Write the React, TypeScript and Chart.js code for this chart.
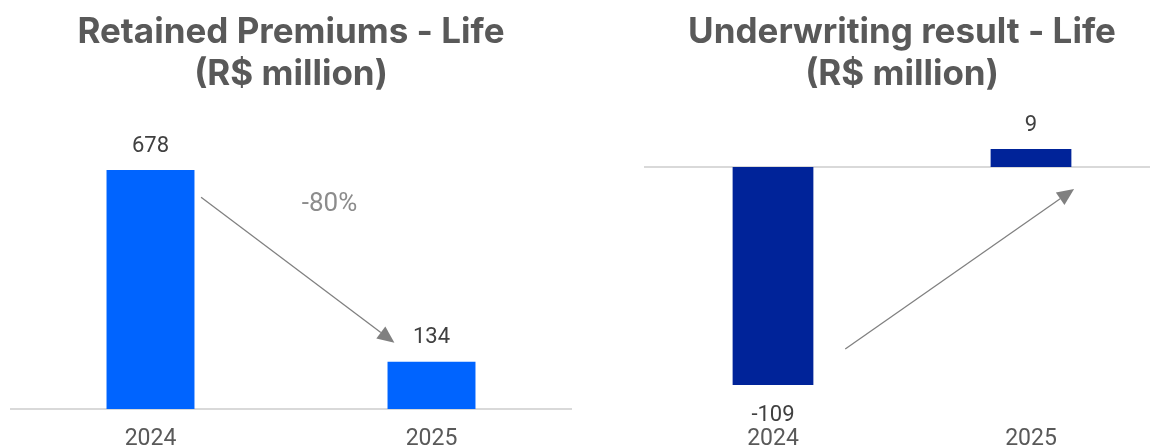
import React, { useEffect, useRef } from "react";
import { Chart, registerables } from "chart.js";

Chart.register(...registerables);

const categories = ["2024", "2025"];
const premiumsValues = [678, 134];
const underwritingValues = [-109, 9];
const premiumsTitle = ["Retained Premiums - Life", "(R$ million)"];
const underwritingTitle = ["Underwriting result - Life", "(R$ million)"];
const premiumsChangeLabel = "-80%";
// arrow annotations in data units: [category index, value]
const premiumsArrow = [[0.18, 601], [0.868, 188]];
const premiumsChangePos = [0.637, 581];
const underwritingArrow = [[0.28, -91], [1.167, -11]];

const TITLE_FONT = "Inter";
const TICK_FONT = "Roboto";
const CANVAS_H = 470;

function drawArrow(ctx: CanvasRenderingContext2D, x1: number, y1: number, x2: number, y2: number) {
  const ang = Math.atan2(y2 - y1, x2 - x1);
  const headLen = 17;
  const headW = 7.5;
  const bx = x2 - headLen * Math.cos(ang);
  const by = y2 - headLen * Math.sin(ang);
  ctx.save();
  ctx.strokeStyle = "#808080";
  ctx.fillStyle = "#808080";
  ctx.lineWidth = 1.3;
  ctx.beginPath();
  ctx.moveTo(x1, y1);
  ctx.lineTo(bx, by);
  ctx.stroke();
  ctx.beginPath();
  ctx.moveTo(x2, y2);
  ctx.lineTo(bx + headW * Math.sin(ang), by - headW * Math.cos(ang));
  ctx.lineTo(bx - headW * Math.sin(ang), by + headW * Math.cos(ang));
  ctx.closePath();
  ctx.fill();
  ctx.restore();
}

const decorPlugin = {
  id: "decor",
  beforeDatasetsDraw(chart: any) {
    const { ctx, chartArea, scales } = chart;
    const y0 = scales.y.getPixelForValue(0);
    ctx.save();
    ctx.strokeStyle = "#d9d9d9";
    ctx.lineWidth = 2;
    ctx.beginPath();
    ctx.moveTo(chartArea.left, y0);
    ctx.lineTo(chartArea.right, y0);
    ctx.stroke();
    ctx.restore();
  },
  afterDatasetsDraw(chart: any, _args: any, opts: any) {
    const { ctx, scales } = chart;
    const meta = chart.getDatasetMeta(0);
    const data = chart.data.datasets[0].data as number[];
    ctx.save();
    ctx.font = `22px ${TICK_FONT}`;
    ctx.fillStyle = "#404040";
    ctx.textAlign = "center";
    ctx.textBaseline = "middle";
    meta.data.forEach((bar: any, i: number) => {
      const v = data[i];
      const y = v >= 0 ? bar.y - 24 : bar.y + 30;
      ctx.fillText(String(v), bar.x, y);
    });
    ctx.restore();
    if (opts.arrow) {
      const [[i1, v1], [i2, v2]] = opts.arrow;
      drawArrow(
        ctx,
        scales.x.getPixelForValue(i1),
        scales.y.getPixelForValue(v1),
        scales.x.getPixelForValue(i2),
        scales.y.getPixelForValue(v2)
      );
    }
    if (opts.change) {
      ctx.save();
      ctx.font = `26px ${TICK_FONT}`;
      ctx.fillStyle = "#8c8c8c";
      ctx.textAlign = "center";
      ctx.textBaseline = "middle";
      ctx.fillText(
        opts.change.text,
        scales.x.getPixelForValue(opts.change.pos[0]),
        scales.y.getPixelForValue(opts.change.pos[1])
      );
      ctx.restore();
    }
  },
};

function makeConfig(
  title: string[],
  values: number[],
  color: string,
  yMin: number,
  yMax: number,
  padL: number,
  padR: number,
  decor: any
): any {
  return {
    type: "bar",
    data: {
      labels: categories,
      datasets: [
        {
          data: values,
          backgroundColor: color,
          borderWidth: 0,
          barPercentage: 0.313,
          categoryPercentage: 1,
        },
      ],
    },
    options: {
      responsive: false,
      animation: false,
      devicePixelRatio: 1,
      layout: { padding: { left: padL, right: padR, top: 0, bottom: 0 } },
      plugins: {
        legend: { display: false },
        tooltip: { enabled: false },
        title: {
          display: true,
          text: title,
          color: "#595959",
          font: { family: TITLE_FONT, size: 35, weight: "bold", lineHeight: 42 / 35 },
          padding: { top: 11, bottom: 32 },
        },
        decor,
      },
      scales: {
        x: {
          grid: { display: false, drawTicks: false },
          border: { display: false },
          ticks: {
            color: "#595959",
            font: { family: TICK_FONT, size: 23, lineHeight: 1 },
            padding: 19,
          },
        },
        y: {
          display: false,
          min: yMin,
          max: yMax,
        },
      },
    },
    plugins: [decorPlugin],
  };
}

function BarPanel(props: { config: any; left: number; width: number }) {
  const ref = useRef<HTMLCanvasElement | null>(null);
  useEffect(() => {
    if (!ref.current) return;
    const chart = new Chart(ref.current, props.config);
    return () => chart.destroy();
  }, []);
  return (
    <canvas
      ref={ref}
      width={props.width}
      height={CANVAS_H}
      style={{ position: "absolute", left: props.left, top: 0, width: props.width, height: CANVAS_H }}
    />
  );
}

export default function App() {
  const leftCfg = makeConfig(premiumsTitle, premiumsValues, "#0064FF", 0, 800, 10, 14, {
    arrow: premiumsArrow,
    change: { text: premiumsChangeLabel, pos: premiumsChangePos },
  });
  const rightCfg = makeConfig(underwritingTitle, underwritingValues, "#002399", -121, 20, 44, 46, {
    arrow: underwritingArrow,
  });
  return (
    <div
      style={{
        position: "fixed",
        left: 0,
        top: 0,
        width: 1150,
        height: 447,
        overflow: "hidden",
        background: "#ffffff",
      }}
    >
      <BarPanel config={leftCfg} left={0} width={586} />
      <BarPanel config={rightCfg} left={600} width={606} />
    </div>
  );
}
